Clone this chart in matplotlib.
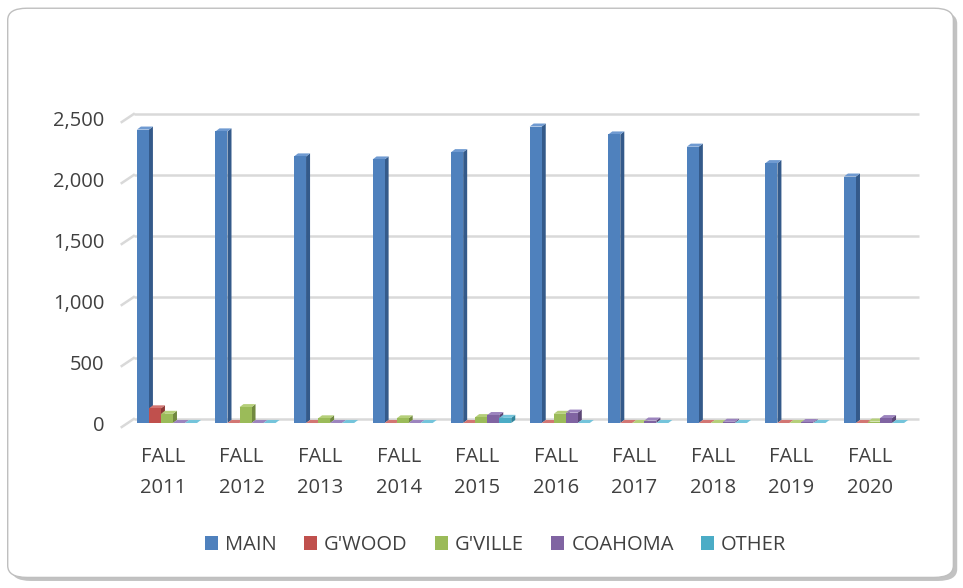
import matplotlib
matplotlib.use("Agg")
import matplotlib.pyplot as plt
import numpy as np
from matplotlib.patches import FancyBboxPatch, Polygon, Patch
from matplotlib.ticker import FuncFormatter
from matplotlib.transforms import ScaledTranslation

plt.rcParams['font.family'] = ['Open Sans', 'DejaVu Sans']

categories = ["FALL\n2011", "FALL\n2012", "FALL\n2013", "FALL\n2014", "FALL\n2015",
              "FALL\n2016", "FALL\n2017", "FALL\n2018", "FALL\n2019", "FALL\n2020"]
main = [2405, 2390, 2185, 2160, 2220, 2430, 2365, 2265, 2130, 2020]
gwood = [120, 0, 0, 0, 0, 0, 0, 0, 0, 0]
gville = [75, 130, 38, 38, 48, 75, 0, 0, 0, 12]
coahoma = [0, 0, 0, 0, 65, 85, 20, 10, 8, 40]
other = [0, 0, 0, 0, 42, 0, 0, 0, 0, 0]

series = [("MAIN", main), ("G'WOOD", gwood), ("G'VILLE", gville),
          ("COAHOMA", coahoma), ("OTHER", other)]
colors = ["#4F81BD", "#C0504D", "#9BBB59", "#8064A2", "#4BACC6"]
dark = ["#345A8A", "#8C3836", "#71893F", "#5C4776", "#31859C"]
light = ["#6F9AD1", "#D27673", "#B5CF7A", "#9C84BE", "#74C4DB"]

fig = plt.figure(figsize=(9.63, 5.88), dpi=100)
fig.patch.set_facecolor("white")

# frame with shadow
shadow = FancyBboxPatch((0.012, 0.012), 0.982, 0.968, boxstyle="round,pad=0,rounding_size=0.02",
                        transform=fig.transFigure, facecolor="#9a9a9a", edgecolor="none", alpha=0.6, zorder=0)
frame = FancyBboxPatch((0.008, 0.018), 0.982, 0.968, boxstyle="round,pad=0,rounding_size=0.02",
                       transform=fig.transFigure, facecolor="white", edgecolor="#bfbfbf", linewidth=1, zorder=0.1)
fig.patches.extend([shadow, frame])

ax = fig.add_axes([0.1285, 0.2806, 0.8158, 0.5187])
ax.set_zorder(2)
ax.set_facecolor("none")
n = len(categories)
x = np.arange(n)
w = 0.153
shift = 0.05
offsets = (np.arange(5) - 2) * w + shift
ax.set_xlim(-0.5, n - 0.5)
ax.set_ylim(0, 2500)

# back-wall gridlines offset in pixels
back = ax.transData + ScaledTranslation(10 / 100, 4 / 100, fig.dpi_scale_trans)
front = ax.transData + ScaledTranslation(-2 / 100, -4 / 100, fig.dpi_scale_trans)
for g in np.arange(0, 2501, 500):
    ax.plot([-0.5, n - 0.5], [g, g], color="#d9d9d9", lw=1.8, zorder=1,
            solid_capstyle="butt", clip_on=False, transform=back)
    # diagonal side-wall edge
    p0 = back.transform((-0.5, g))
    p1 = front.transform((-0.5, g))
    ax.plot([p0[0], p1[0]], [p0[1], p1[1]], color="#d9d9d9", lw=1.8, zorder=1,
            clip_on=False, transform=None)

dx = 0.051
dy = 25
for i, (name, vals) in enumerate(series):
    ax.bar(x + offsets[i], vals, width=w, color=colors[i], zorder=3, align="center",
           clip_on=False, linewidth=0)
    for xc, v in zip(x + offsets[i], vals):
        x0, x1 = xc - w / 2, xc + w / 2
        side = Polygon([[x1, 0], [x1 + dx, dy], [x1 + dx, v + dy], [x1, v]], closed=True,
                       facecolor=dark[i], edgecolor="none", zorder=2.9, clip_on=False)
        top = Polygon([[x0, v], [x0 + dx, v + dy], [x1 + dx, v + dy], [x1, v]], closed=True,
                      facecolor=light[i], edgecolor="none", zorder=2.9, clip_on=False)
        ax.add_patch(side)
        ax.add_patch(top)

ax.set_xticks(x)
ax.set_xticklabels(categories, fontsize=14.5, color="#404040", linespacing=1.75)
ax.set_yticks(np.arange(0, 2501, 500))
ax.yaxis.set_major_formatter(FuncFormatter(lambda v, p: f"{int(v):,}"))
ax.tick_params(axis="y", labelsize=14.5, labelcolor="#404040", length=0, pad=14)
ax.tick_params(axis="x", length=0, pad=17)
for s in ax.spines.values():
    s.set_visible(False)

handles = [Patch(facecolor=c, edgecolor="none", label=nm) for c, (nm, _) in zip(colors, series)]
fig.legend(handles=handles, loc="center", bbox_to_anchor=(0.5146, 0.073), ncol=5, frameon=False,
           fontsize=14.5, labelcolor="#404040", handlelength=0.65, handleheight=0.65,
           handletextpad=0.35, columnspacing=1.35)

fig.savefig("out.png", dpi=100)
